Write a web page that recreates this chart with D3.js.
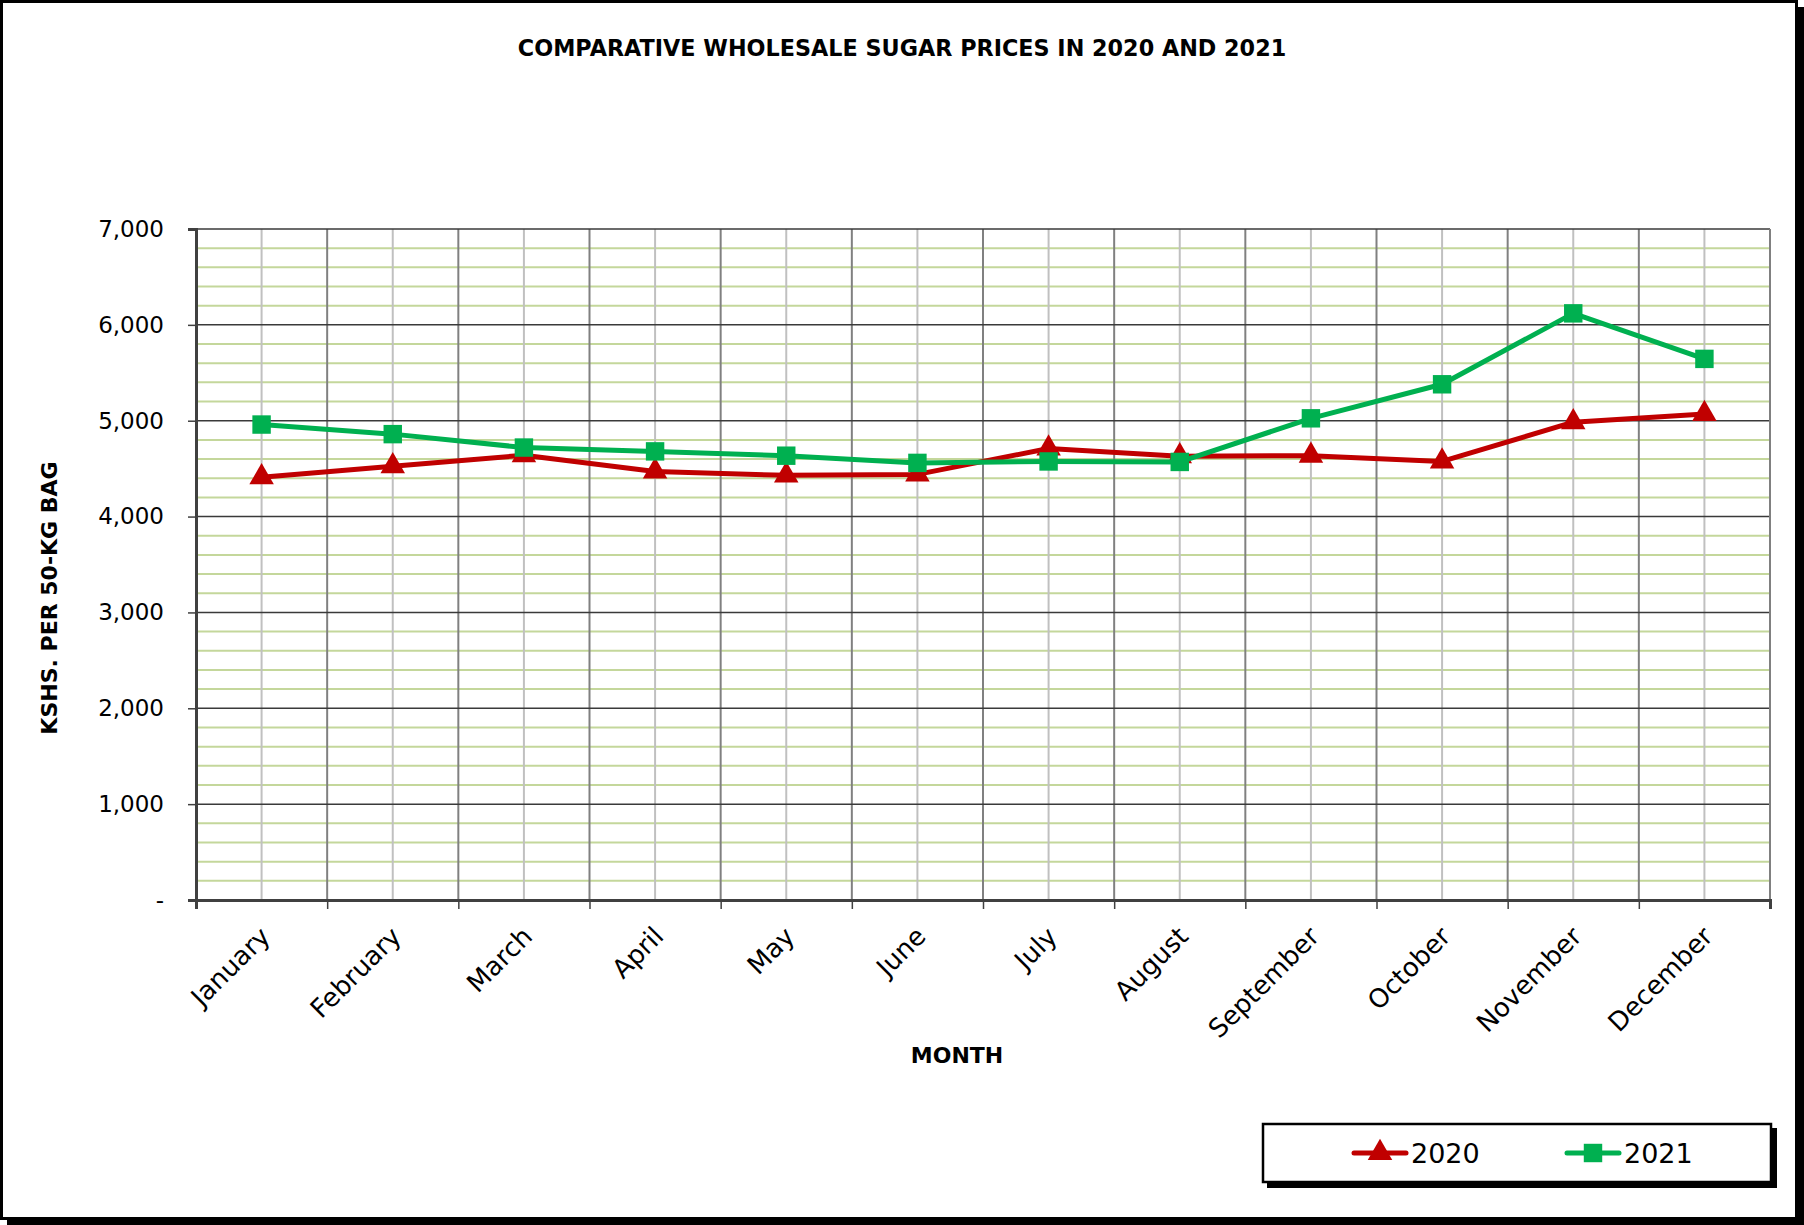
<!DOCTYPE html>
<html lang='en'>
<head>
  <meta charset='UTF-8'>
  <title>Comparative Wholesale Sugar Prices</title>
  <style>
  body { margin: 0; background: white; }
  text { font-family: 'Century Gothic', 'DejaVu Sans', sans-serif; fill: #000; }
  .title, .axis-title { font-weight: bold; }
  </style>
  <script src='https://d3js.org/d3.v7.min.js'></script>
</head>
<body>
  <script>

  var months = ['January', 'February', 'March', 'April', 'May', 'June',
    'July', 'August', 'September', 'October', 'November', 'December'];
  var prices2020 = [4410, 4525, 4640, 4470, 4430, 4440, 4710, 4630, 4635, 4575, 4985, 5070];
  var prices2021 = [4960, 4860, 4720, 4680, 4635, 4560, 4575, 4570, 5025, 5380, 6120, 5645];
  var yTicks = [0, 1000, 2000, 3000, 4000, 5000, 6000, 7000];

  var svgWidth = 1804, svgHeight = 1225;
  var margin = { top: 229, right: 34, bottom: 325, left: 196 };
  var width = svgWidth - margin.left - margin.right;
  var height = svgHeight - margin.top - margin.bottom;

  var svg = d3.select('body').append('svg')
    .attr('width', svgWidth).attr('height', svgHeight);

  // outer frame with shadow
  svg.append('rect').attr('x', 7).attr('y', 7).attr('width', 1797).attr('height', 1218).attr('fill', '#000');
  svg.append('rect').attr('x', 1.5).attr('y', 1.5).attr('width', 1795).attr('height', 1217)
    .attr('fill', '#fff').attr('stroke', '#000').attr('stroke-width', 3);

  var x = d3.scaleBand().domain(months).range([0, width]);
  var y = d3.scaleLinear().domain([0, 7000]).range([height, 0]);

  var g = svg.append('g').attr('transform', 'translate(' + margin.left + ',' + margin.top + ')');

  // minor gridlines
  g.append('g').selectAll('line')
    .data(d3.range(200, 7000, 200).filter(function (d) { return d % 1000 !== 0; }))
    .enter().append('line')
    .attr('x1', 0).attr('x2', width)
    .attr('y1', function (d) { return y(d); }).attr('y2', function (d) { return y(d); })
    .attr('stroke', '#c4d79b').attr('stroke-width', 2);

  // vertical gridlines at category centres and boundaries
  g.append('g').selectAll('line')
    .data(months).enter().append('line')
    .attr('x1', function (d) { return x(d) + x.bandwidth() / 2; })
    .attr('x2', function (d) { return x(d) + x.bandwidth() / 2; })
    .attr('y1', 0).attr('y2', height)
    .attr('stroke', '#c0c0c0').attr('stroke-width', 2);

  g.append('g').selectAll('line')
    .data(months.slice(1)).enter().append('line')
    .attr('x1', function (d) { return x(d); }).attr('x2', function (d) { return x(d); })
    .attr('y1', 0).attr('y2', height)
    .attr('stroke', '#808080').attr('stroke-width', 2);

  // major gridlines
  g.append('g').selectAll('line')
    .data(yTicks.slice(1)).enter().append('line')
    .attr('x1', 0).attr('x2', width)
    .attr('y1', function (d) { return y(d); }).attr('y2', function (d) { return y(d); })
    .attr('stroke', '#3a3a3a').attr('stroke-width', 1.5);

  g.append('line').attr('x1', width).attr('x2', width).attr('y1', 0).attr('y2', height)
    .attr('stroke', '#808080').attr('stroke-width', 2);

  // axes
  var yAxis = g.append('g')
    .call(d3.axisLeft(y).tickValues(yTicks).tickSize(8).tickPadding(24)
      .tickFormat(function (d) { return d === 0 ? '-' : d3.format(',')(d); }));
  yAxis.select('.domain').attr('stroke', '#404040').attr('stroke-width', 3);
  yAxis.selectAll('.tick line').attr('stroke', '#404040').attr('stroke-width', 1.5);
  yAxis.selectAll('.tick text').attr('font-size', 23).attr('font-family', null).attr('fill', '#111');

  var xAxis = g.append('g')
    .attr('transform', 'translate(0,' + height + ')')
    .call(d3.axisBottom(d3.scalePoint().domain(d3.range(13)).range([0, width]))
      .tickSize(9).tickFormat(''));
  xAxis.select('.domain').attr('stroke', '#404040').attr('stroke-width', 3);
  xAxis.selectAll('.tick line').attr('stroke', '#404040').attr('stroke-width', 1.5);

  g.append('g').selectAll('text')
    .data(months).enter().append('text')
    .attr('transform', function (d) {
      return 'translate(' + (x(d) + x.bandwidth() / 2 + 10) + ',' + (height + 38) + ') rotate(-45)';
    })
    .attr('text-anchor', 'end')
    .attr('font-size', 26)
    .text(function (d) { return d; });

  // series
  var series = [
    { name: '2020', values: prices2020, color: '#c00000', symbol: d3.symbolTriangle, size: 260 },
    { name: '2021', values: prices2021, color: '#00b050', symbol: d3.symbolSquare, size: 340 }
  ];

  var line = d3.line()
    .x(function (d, i) { return x(months[i]) + x.bandwidth() / 2; })
    .y(function (d) { return y(d); });

  series.forEach(function (s) {
    g.append('path')
      .attr('d', line(s.values))
      .attr('fill', 'none')
      .attr('stroke', s.color)
      .attr('stroke-width', 5)
      .attr('stroke-linejoin', 'round');

    g.append('g').selectAll('path')
      .data(s.values).enter().append('path')
      .attr('transform', function (d, i) {
        return 'translate(' + (x(months[i]) + x.bandwidth() / 2) + ',' + y(d) + ')';
      })
      .attr('d', d3.symbol().type(s.symbol).size(s.size))
      .attr('fill', s.color);
  });

  // titles
  svg.append('text')
    .attr('class', 'title')
    .attr('x', 902).attr('y', 56)
    .attr('text-anchor', 'middle')
    .attr('font-size', 22.3)
    .text('COMPARATIVE WHOLESALE SUGAR PRICES IN 2020 AND 2021');

  svg.append('text')
    .attr('class', 'axis-title')
    .attr('x', 957).attr('y', 1063)
    .attr('text-anchor', 'middle')
    .attr('font-size', 22)
    .text('MONTH');

  svg.append('text')
    .attr('class', 'axis-title')
    .attr('transform', 'translate(57,598) rotate(-90)')
    .attr('text-anchor', 'middle')
    .attr('font-size', 22)
    .text('KSHS. PER 50-KG BAG');

  // legend
  var legend = svg.append('g');
  legend.append('rect').attr('x', 1267).attr('y', 1128).attr('width', 510).attr('height', 60).attr('fill', '#000');
  legend.append('rect').attr('x', 1263).attr('y', 1124).attr('width', 508).attr('height', 58)
    .attr('fill', '#fff').attr('stroke', '#000').attr('stroke-width', 2.5);

  var legendX = [1354, 1567];
  series.forEach(function (s, i) {
    var lx = legendX[i];
    legend.append('line')
      .attr('x1', lx).attr('x2', lx + 52).attr('y1', 1153).attr('y2', 1153)
      .attr('stroke', s.color).attr('stroke-width', 5).attr('stroke-linecap', 'round');
    legend.append('path')
      .attr('transform', 'translate(' + (lx + 26) + ',1153)')
      .attr('d', d3.symbol().type(s.symbol).size(s.size))
      .attr('fill', s.color);
    legend.append('text')
      .attr('x', lx + 57).attr('y', 1163)
      .attr('font-size', 27)
      .text(s.name);
  });
  </script>
</body>
</html>
